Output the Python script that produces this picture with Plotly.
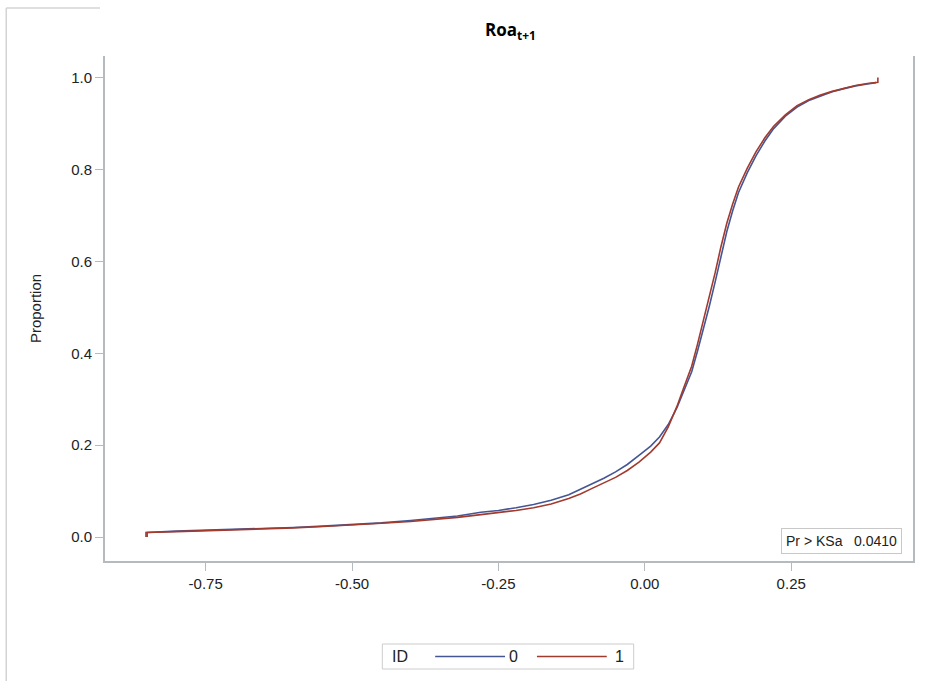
import plotly.graph_objects as go

# ECDF of Roa(t+1) by ID
x_id0 = [-0.850, -0.850, -0.80, -0.72, -0.66, -0.60, -0.55, -0.50, -0.45, -0.40, -0.36, -0.32,
         -0.28, -0.25, -0.22, -0.19, -0.16, -0.13, -0.11, -0.09, -0.07, -0.05, -0.03, -0.01,
         0.01, 0.025, 0.04, 0.055, 0.065, 0.08, 0.09, 0.10, 0.11, 0.12, 0.13, 0.14, 0.15,
         0.16, 0.175, 0.19, 0.205, 0.22, 0.24, 0.26, 0.28, 0.30, 0.32, 0.34, 0.36, 0.38, 0.395]
y_id0 = [0.000, 0.010, 0.013, 0.016, 0.018, 0.021, 0.024, 0.027, 0.031, 0.036, 0.041, 0.046,
         0.054, 0.058, 0.064, 0.071, 0.080, 0.092, 0.104, 0.116, 0.128, 0.142, 0.158, 0.178,
         0.198, 0.218, 0.245, 0.282, 0.312, 0.360, 0.405, 0.452, 0.502, 0.555, 0.612, 0.665, 0.710,
         0.750, 0.793, 0.830, 0.862, 0.889, 0.916, 0.936, 0.950, 0.960, 0.969, 0.976, 0.982, 0.986, 0.989]

x_id1 = [-0.852, -0.852, -0.80, -0.72, -0.66, -0.60, -0.55, -0.50, -0.45, -0.40, -0.36, -0.32,
         -0.28, -0.25, -0.22, -0.19, -0.16, -0.13, -0.11, -0.09, -0.07, -0.05, -0.03, -0.01,
         0.01, 0.025, 0.04, 0.055, 0.065, 0.08, 0.09, 0.10, 0.11, 0.12, 0.13, 0.14, 0.15,
         0.16, 0.175, 0.19, 0.205, 0.22, 0.24, 0.26, 0.28, 0.30, 0.32, 0.34, 0.36, 0.38, 0.398, 0.398]
y_id1 = [0.000, 0.010, 0.012, 0.015, 0.017, 0.020, 0.023, 0.026, 0.030, 0.034, 0.038, 0.043,
         0.049, 0.053, 0.058, 0.064, 0.072, 0.084, 0.094, 0.106, 0.118, 0.130, 0.145, 0.163,
         0.185, 0.205, 0.240, 0.285, 0.320, 0.372, 0.420, 0.470, 0.522, 0.575, 0.632, 0.683, 0.725,
         0.762, 0.803, 0.839, 0.869, 0.894, 0.919, 0.939, 0.952, 0.962, 0.970, 0.977, 0.983, 0.987, 0.990, 1.000]

x_ticks = [-0.75, -0.50, -0.25, 0.00, 0.25]
x_tick_labels = ["-0.75", "-0.50", "-0.25", "0.00", "0.25"]
y_ticks = [0.0, 0.2, 0.4, 0.6, 0.8, 1.0]
y_tick_labels = ["0.0", "0.2", "0.4", "0.6", "0.8", "1.0"]

group_names = ["0", "1"]
ks_label = "Pr > KSa   0.0410"

BLUE = "#445694"
RED = "#A23A2E"
AXIS = "#B5BABE"
FONT = "Liberation Sans Narrow, Liberation Sans, Arial, sans-serif"

W, H = 925, 681
L, R, T, B = 105, 915, 56, 561


def px(xp):
    return (xp - L) / (R - L)


def py(yp):
    return (B - yp) / (B - T)


fig = go.Figure()
fig.add_trace(go.Scatter(x=x_id0, y=y_id0, mode="lines", name=group_names[0],
                         line=dict(color=BLUE, width=1.6), showlegend=False))
fig.add_trace(go.Scatter(x=x_id1, y=y_id1, mode="lines", name=group_names[1],
                         line=dict(color=RED, width=1.6), showlegend=False))

shapes = []
annotations = []

# outer page border fragments
shapes.append(dict(type="line", xref="paper", yref="paper", x0=px(6), x1=px(6), y0=py(8), y1=py(681),
                   line=dict(color="#D4D4D4", width=1.5)))
shapes.append(dict(type="line", xref="paper", yref="paper", x0=px(6), x1=px(100), y0=py(8), y1=py(8),
                   line=dict(color="#D4D4D4", width=1.5)))

# KS inset
annotations.append(dict(xref="paper", yref="paper", x=px(843), y=py(541), text=ks_label,
                        showarrow=False, font=dict(family=FONT, size=14, color="#222"),
                        bordercolor="#C8C8C8", borderwidth=1, borderpad=4, bgcolor="white",
                        xanchor="center", yanchor="middle"))

# manual legend
shapes.append(dict(type="rect", xref="paper", yref="paper", x0=px(383), x1=px(635), y0=py(644), y1=py(669),
                   line=dict(color="#CCCCCC", width=1), fillcolor="white"))
annotations.append(dict(xref="paper", yref="paper", x=px(391), y=py(656.5), text="ID", showarrow=False,
                        font=dict(family=FONT, size=16, color="#222"), xanchor="left", yanchor="middle"))
shapes.append(dict(type="line", xref="paper", yref="paper", x0=px(436), x1=px(506), y0=py(656.5), y1=py(656.5),
                   line=dict(color=BLUE, width=1.6)))
annotations.append(dict(xref="paper", yref="paper", x=px(515), y=py(656.5), text=group_names[0], showarrow=False,
                        font=dict(family=FONT, size=16, color="#222"), xanchor="center", yanchor="middle"))
shapes.append(dict(type="line", xref="paper", yref="paper", x0=px(538), x1=px(608), y0=py(656.5), y1=py(656.5),
                   line=dict(color=RED, width=1.6)))
annotations.append(dict(xref="paper", yref="paper", x=px(621), y=py(656.5), text=group_names[1], showarrow=False,
                        font=dict(family=FONT, size=16, color="#222"), xanchor="center", yanchor="middle"))

# title
annotations.append(dict(xref="paper", yref="paper", x=px(512), y=py(31), text="<b>Roa<sub>t+1</sub></b>",
                        showarrow=False, xanchor="center", yanchor="middle",
                        font=dict(family="Open Sans, Liberation Sans, sans-serif", size=17, color="black")))

fig.update_layout(
    width=W, height=H,
    margin=dict(l=L, r=W - R, t=T, b=H - B, pad=0),
    paper_bgcolor="white", plot_bgcolor="white",
    shapes=shapes, annotations=annotations,
    showlegend=False,
)

fig.update_xaxes(range=[-0.922, 0.458], tickvals=x_ticks, ticktext=x_tick_labels,
                 showgrid=False, zeroline=False, showline=True, linecolor=AXIS, linewidth=2,
                 ticks="outside", ticklen=8, tickcolor=AXIS, tickwidth=1,
                 tickfont=dict(family=FONT, size=15, color="#222"))
fig.update_yaxes(range=[-0.052, 1.047], tickvals=y_ticks, ticktext=y_tick_labels,
                 showgrid=False, zeroline=False, showline=True, mirror=True, linecolor=AXIS, linewidth=2,
                 ticks="outside", ticklen=8, tickcolor=AXIS, tickwidth=1,
                 tickfont=dict(family=FONT, size=15, color="#222"),
                 title=dict(text="Proportion", font=dict(family=FONT, size=15, color="#222"), standoff=26))

fig.write_html("out.html", config={"displayModeBar": False},
               post_script="document.body.style.margin='0px';")
